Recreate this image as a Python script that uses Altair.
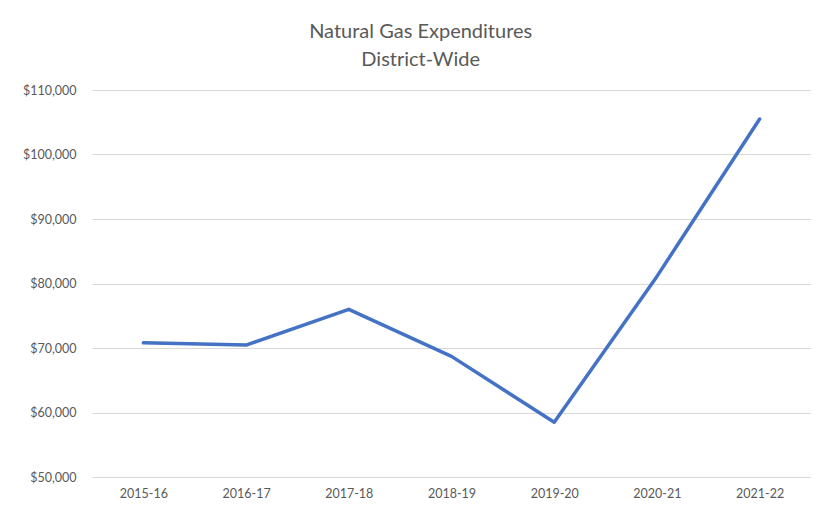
import altair as alt
import pandas as pd

years = ["2015-16", "2016-17", "2017-18", "2018-19", "2019-20", "2020-21", "2021-22"]
expenditures = [70800, 70450, 76000, 68700, 58500, 81100, 105500]

df = pd.DataFrame({"Year": years, "Expenditure": expenditures})

FONT = "Lato"
GREY = "#595959"

chart = alt.Chart(df).mark_line(color="#4472C4", strokeWidth=3.5, strokeCap="round", strokeJoin="round").encode(
    x=alt.X("Year:N", sort=years, title=None,
            scale=alt.Scale(paddingInner=1, paddingOuter=0.47),
            axis=alt.Axis(labelAngle=0, ticks=False, domain=False, grid=False,
                          labelPadding=10, labelFontSize=12.5, labelColor=GREY, labelFont=FONT)),
    y=alt.Y("Expenditure:Q", title=None,
            scale=alt.Scale(domain=[50000, 110000], nice=False, zero=False),
            axis=alt.Axis(values=[50000, 60000, 70000, 80000, 90000, 100000, 110000],
                          format="$,.0f", ticks=False, domain=False, grid=True,
                          gridColor="#D9D9D9", gridWidth=1, labelPadding=16,
                          labelFontSize=12.5, labelColor=GREY, labelFont=FONT)),
).properties(
    width=719,
    height=387,
    title=alt.TitleParams(["Natural Gas Expenditures", "District-Wide"], anchor="middle",
                          frame="bounds", font=FONT, fontSize=20, fontWeight="normal",
                          color=GREY, lineHeight=28, offset=14, dx=4),
    autosize=alt.AutoSizeParams(type="none"),
    padding={"left": 84, "top": 82, "right": 0, "bottom": 28},
).configure_view(stroke=None)

chart.save("out.html", embed_options={"renderer": "svg", "actions": False})
